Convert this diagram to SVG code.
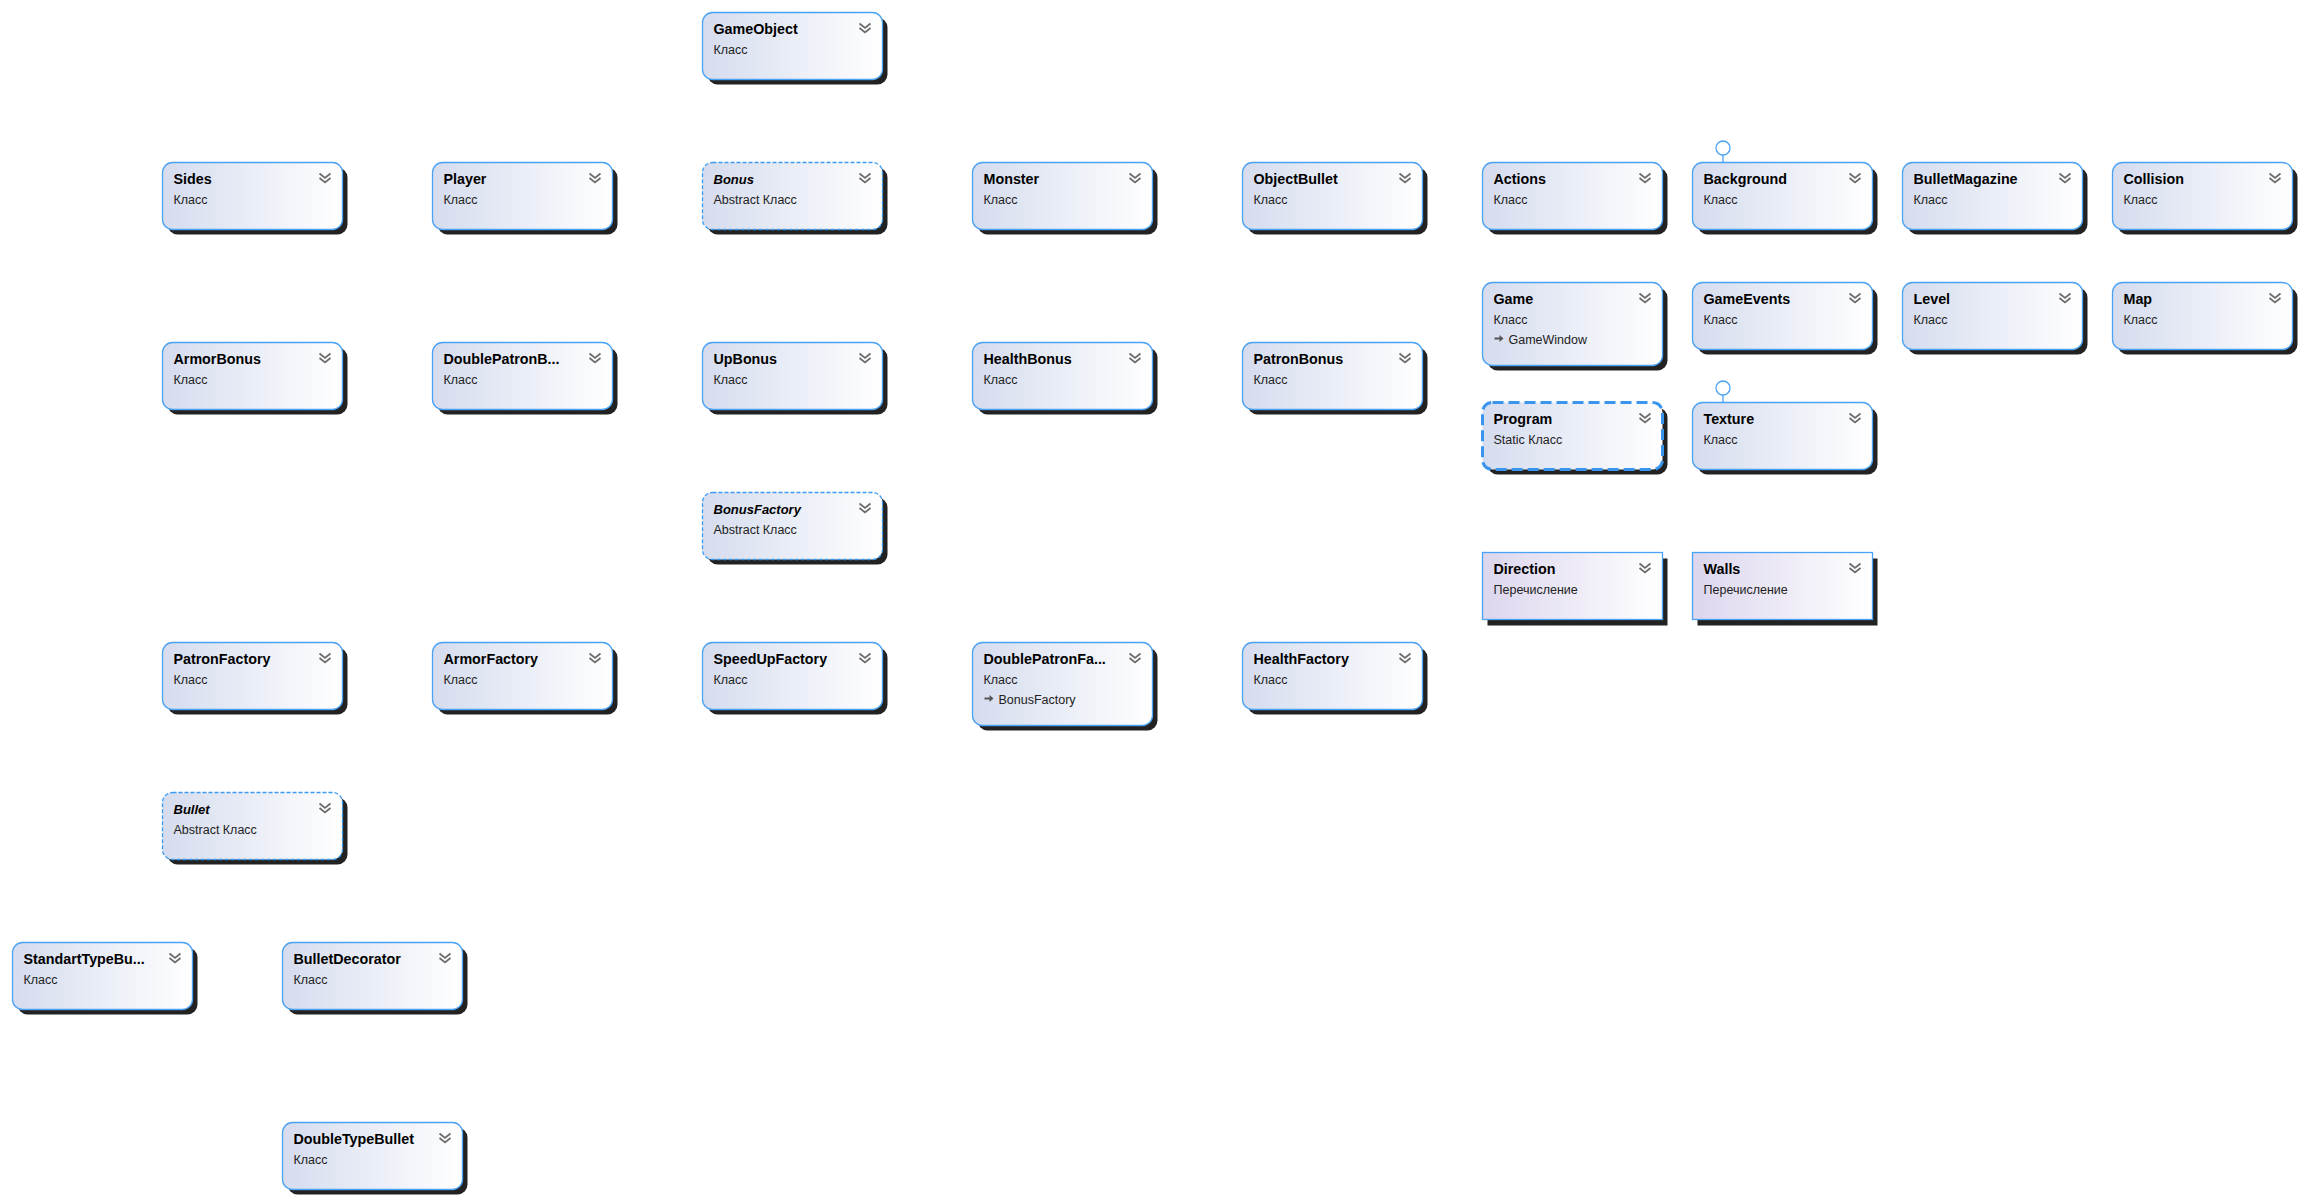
<svg xmlns="http://www.w3.org/2000/svg" xmlns:xlink="http://www.w3.org/1999/xlink" width="2304" height="1201" viewBox="0 0 2304 1201">
<defs>
<linearGradient id="gc" x1="0" y1="0" x2="1" y2="0">
<stop offset="0" stop-color="#d5dcee"/>
<stop offset="1" stop-color="#ffffff"/>
</linearGradient>
<linearGradient id="ge" x1="0" y1="0" x2="1" y2="0">
<stop offset="0" stop-color="#dcd6ee"/>
<stop offset="1" stop-color="#ffffff"/>
</linearGradient>
<path id="chev" d="M0,0 L5.5,4.5 L11,0 M0,4.5 L5.5,9 L11,4.5" fill="none" stroke="#6a6a6a" stroke-width="1.7"/>
<path id="arr" d="M0,3 L5,3 L5,0.5 L9,4 L5,7.5 L5,5 L0,5 Z" fill="#555"/>
</defs>
<style>
.sh{fill:#222222}
.b{fill:url(#gc);stroke:#4aa2f4;stroke-width:1.3}
.ab{fill:url(#gc);stroke:#3a9af2;stroke-width:1.3;stroke-dasharray:4 2}
.st{fill:url(#gc);stroke:#3a95ee;stroke-width:3;stroke-dasharray:11 5}
.en{fill:url(#ge);stroke:#4aa2f4;stroke-width:1.3}
.t{font-family:"Liberation Sans",Arial,sans-serif;font-weight:bold;font-size:14.3px;fill:#000}
.ti{font-family:"Liberation Sans",Arial,sans-serif;font-weight:bold;font-style:italic;font-size:13px;fill:#000}
.s{font-family:"Liberation Sans",Arial,sans-serif;font-size:12.5px;fill:#222}
.lp{fill:#fff;stroke:#4aa2f4;stroke-width:1.3}
.ll{stroke:#4aa2f4;stroke-width:1.3}
</style>
<rect width="2304" height="1201" fill="#fff"/>

<g id="connectors">
<line class="ll" x1="1723" y1="155" x2="1723" y2="162.5"/>
<circle class="lp" cx="1723" cy="148" r="7"/>
<line class="ll" x1="1723" y1="395" x2="1723" y2="402.5"/>
<circle class="lp" cx="1723" cy="388" r="7"/>
</g>

<g id="GameObject" transform="translate(702.5,12.5)"><rect class="sh" x="5" y="5" width="180" height="67" rx="10"/><rect class="b" width="180" height="67" rx="10"/><text class="t" x="11" y="21">GameObject</text><text class="s" x="11" y="41">Класс</text><use href="#chev" x="157" y="11"/></g>

<g id="Sides" transform="translate(162.5,162.5)"><rect class="sh" x="5" y="5" width="180" height="67" rx="10"/><rect class="b" width="180" height="67" rx="10"/><text class="t" x="11" y="21">Sides</text><text class="s" x="11" y="41">Класс</text><use href="#chev" x="157" y="11"/></g>
<g id="Player" transform="translate(432.5,162.5)"><rect class="sh" x="5" y="5" width="180" height="67" rx="10"/><rect class="b" width="180" height="67" rx="10"/><text class="t" x="11" y="21">Player</text><text class="s" x="11" y="41">Класс</text><use href="#chev" x="157" y="11"/></g>
<g id="Bonus" transform="translate(702.5,162.5)"><rect class="sh" x="5" y="5" width="180" height="67" rx="10"/><rect class="ab" width="180" height="67" rx="10"/><text class="ti" x="11" y="21">Bonus</text><text class="s" x="11" y="41">Abstract Класс</text><use href="#chev" x="157" y="11"/></g>
<g id="Monster" transform="translate(972.5,162.5)"><rect class="sh" x="5" y="5" width="180" height="67" rx="10"/><rect class="b" width="180" height="67" rx="10"/><text class="t" x="11" y="21">Monster</text><text class="s" x="11" y="41">Класс</text><use href="#chev" x="157" y="11"/></g>
<g id="ObjectBullet" transform="translate(1242.5,162.5)"><rect class="sh" x="5" y="5" width="180" height="67" rx="10"/><rect class="b" width="180" height="67" rx="10"/><text class="t" x="11" y="21">ObjectBullet</text><text class="s" x="11" y="41">Класс</text><use href="#chev" x="157" y="11"/></g>
<g id="Actions" transform="translate(1482.5,162.5)"><rect class="sh" x="5" y="5" width="180" height="67" rx="10"/><rect class="b" width="180" height="67" rx="10"/><text class="t" x="11" y="21">Actions</text><text class="s" x="11" y="41">Класс</text><use href="#chev" x="157" y="11"/></g>
<g id="Background" transform="translate(1692.5,162.5)"><rect class="sh" x="5" y="5" width="180" height="67" rx="10"/><rect class="b" width="180" height="67" rx="10"/><text class="t" x="11" y="21">Background</text><text class="s" x="11" y="41">Класс</text><use href="#chev" x="157" y="11"/></g>
<g id="BulletMagazine" transform="translate(1902.5,162.5)"><rect class="sh" x="5" y="5" width="180" height="67" rx="10"/><rect class="b" width="180" height="67" rx="10"/><text class="t" x="11" y="21">BulletMagazine</text><text class="s" x="11" y="41">Класс</text><use href="#chev" x="157" y="11"/></g>
<g id="Collision" transform="translate(2112.5,162.5)"><rect class="sh" x="5" y="5" width="180" height="67" rx="10"/><rect class="b" width="180" height="67" rx="10"/><text class="t" x="11" y="21">Collision</text><text class="s" x="11" y="41">Класс</text><use href="#chev" x="157" y="11"/></g>

<g id="Game" transform="translate(1482.5,282.5)"><rect class="sh" x="5" y="5" width="180" height="83" rx="10"/><rect class="b" width="180" height="83" rx="10"/><text class="t" x="11" y="21">Game</text><text class="s" x="11" y="41">Класс</text><use href="#arr" x="12" y="52"/><text class="s" x="26" y="61">GameWindow</text><use href="#chev" x="157" y="11"/></g>
<g id="GameEvents" transform="translate(1692.5,282.5)"><rect class="sh" x="5" y="5" width="180" height="67" rx="10"/><rect class="b" width="180" height="67" rx="10"/><text class="t" x="11" y="21">GameEvents</text><text class="s" x="11" y="41">Класс</text><use href="#chev" x="157" y="11"/></g>
<g id="Level" transform="translate(1902.5,282.5)"><rect class="sh" x="5" y="5" width="180" height="67" rx="10"/><rect class="b" width="180" height="67" rx="10"/><text class="t" x="11" y="21">Level</text><text class="s" x="11" y="41">Класс</text><use href="#chev" x="157" y="11"/></g>
<g id="Map" transform="translate(2112.5,282.5)"><rect class="sh" x="5" y="5" width="180" height="67" rx="10"/><rect class="b" width="180" height="67" rx="10"/><text class="t" x="11" y="21">Map</text><text class="s" x="11" y="41">Класс</text><use href="#chev" x="157" y="11"/></g>

<g id="ArmorBonus" transform="translate(162.5,342.5)"><rect class="sh" x="5" y="5" width="180" height="67" rx="10"/><rect class="b" width="180" height="67" rx="10"/><text class="t" x="11" y="21">ArmorBonus</text><text class="s" x="11" y="41">Класс</text><use href="#chev" x="157" y="11"/></g>
<g id="DoublePatronBonus" transform="translate(432.5,342.5)"><rect class="sh" x="5" y="5" width="180" height="67" rx="10"/><rect class="b" width="180" height="67" rx="10"/><text class="t" x="11" y="21">DoublePatronB...</text><text class="s" x="11" y="41">Класс</text><use href="#chev" x="157" y="11"/></g>
<g id="UpBonus" transform="translate(702.5,342.5)"><rect class="sh" x="5" y="5" width="180" height="67" rx="10"/><rect class="b" width="180" height="67" rx="10"/><text class="t" x="11" y="21">UpBonus</text><text class="s" x="11" y="41">Класс</text><use href="#chev" x="157" y="11"/></g>
<g id="HealthBonus" transform="translate(972.5,342.5)"><rect class="sh" x="5" y="5" width="180" height="67" rx="10"/><rect class="b" width="180" height="67" rx="10"/><text class="t" x="11" y="21">HealthBonus</text><text class="s" x="11" y="41">Класс</text><use href="#chev" x="157" y="11"/></g>
<g id="PatronBonus" transform="translate(1242.5,342.5)"><rect class="sh" x="5" y="5" width="180" height="67" rx="10"/><rect class="b" width="180" height="67" rx="10"/><text class="t" x="11" y="21">PatronBonus</text><text class="s" x="11" y="41">Класс</text><use href="#chev" x="157" y="11"/></g>

<g id="Program" transform="translate(1482.5,402.5)"><rect class="sh" x="5" y="5" width="180" height="67" rx="10"/><rect class="st" width="180" height="67" rx="10"/><text class="t" x="11" y="21">Program</text><text class="s" x="11" y="41">Static Класс</text><use href="#chev" x="157" y="11"/></g>
<g id="Texture" transform="translate(1692.5,402.5)"><rect class="sh" x="5" y="5" width="180" height="67" rx="10"/><rect class="b" width="180" height="67" rx="10"/><text class="t" x="11" y="21">Texture</text><text class="s" x="11" y="41">Класс</text><use href="#chev" x="157" y="11"/></g>

<g id="BonusFactory" transform="translate(702.5,492.5)"><rect class="sh" x="5" y="5" width="180" height="67" rx="10"/><rect class="ab" width="180" height="67" rx="10"/><text class="ti" x="11" y="21">BonusFactory</text><text class="s" x="11" y="41">Abstract Класс</text><use href="#chev" x="157" y="11"/></g>

<g id="Direction" transform="translate(1482.5,552.5)"><rect class="sh" x="5" y="6" width="180" height="67"/><rect class="en" width="180" height="67"/><text class="t" x="11" y="21">Direction</text><text class="s" x="11" y="41">Перечисление</text><use href="#chev" x="157" y="11"/></g>
<g id="Walls" transform="translate(1692.5,552.5)"><rect class="sh" x="5" y="6" width="180" height="67"/><rect class="en" width="180" height="67"/><text class="t" x="11" y="21">Walls</text><text class="s" x="11" y="41">Перечисление</text><use href="#chev" x="157" y="11"/></g>

<g id="PatronFactory" transform="translate(162.5,642.5)"><rect class="sh" x="5" y="5" width="180" height="67" rx="10"/><rect class="b" width="180" height="67" rx="10"/><text class="t" x="11" y="21">PatronFactory</text><text class="s" x="11" y="41">Класс</text><use href="#chev" x="157" y="11"/></g>
<g id="ArmorFactory" transform="translate(432.5,642.5)"><rect class="sh" x="5" y="5" width="180" height="67" rx="10"/><rect class="b" width="180" height="67" rx="10"/><text class="t" x="11" y="21">ArmorFactory</text><text class="s" x="11" y="41">Класс</text><use href="#chev" x="157" y="11"/></g>
<g id="SpeedUpFactory" transform="translate(702.5,642.5)"><rect class="sh" x="5" y="5" width="180" height="67" rx="10"/><rect class="b" width="180" height="67" rx="10"/><text class="t" x="11" y="21">SpeedUpFactory</text><text class="s" x="11" y="41">Класс</text><use href="#chev" x="157" y="11"/></g>
<g id="DoublePatronFactory" transform="translate(972.5,642.5)"><rect class="sh" x="5" y="5" width="180" height="83" rx="10"/><rect class="b" width="180" height="83" rx="10"/><text class="t" x="11" y="21">DoublePatronFa...</text><text class="s" x="11" y="41">Класс</text><use href="#arr" x="12" y="52"/><text class="s" x="26" y="61">BonusFactory</text><use href="#chev" x="157" y="11"/></g>
<g id="HealthFactory" transform="translate(1242.5,642.5)"><rect class="sh" x="5" y="5" width="180" height="67" rx="10"/><rect class="b" width="180" height="67" rx="10"/><text class="t" x="11" y="21">HealthFactory</text><text class="s" x="11" y="41">Класс</text><use href="#chev" x="157" y="11"/></g>

<g id="Bullet" transform="translate(162.5,792.5)"><rect class="sh" x="5" y="5" width="180" height="67" rx="10"/><rect class="ab" width="180" height="67" rx="10"/><text class="ti" x="11" y="21">Bullet</text><text class="s" x="11" y="41">Abstract Класс</text><use href="#chev" x="157" y="11"/></g>

<g id="StandartTypeBullet" transform="translate(12.5,942.5)"><rect class="sh" x="5" y="5" width="180" height="67" rx="10"/><rect class="b" width="180" height="67" rx="10"/><text class="t" x="11" y="21">StandartTypeBu...</text><text class="s" x="11" y="41">Класс</text><use href="#chev" x="157" y="11"/></g>
<g id="BulletDecorator" transform="translate(282.5,942.5)"><rect class="sh" x="5" y="5" width="180" height="67" rx="10"/><rect class="b" width="180" height="67" rx="10"/><text class="t" x="11" y="21">BulletDecorator</text><text class="s" x="11" y="41">Класс</text><use href="#chev" x="157" y="11"/></g>

<g id="DoubleTypeBullet" transform="translate(282.5,1122.5)"><rect class="sh" x="5" y="5" width="180" height="67" rx="10"/><rect class="b" width="180" height="67" rx="10"/><text class="t" x="11" y="21">DoubleTypeBullet</text><text class="s" x="11" y="41">Класс</text><use href="#chev" x="157" y="11"/></g>
</svg>
